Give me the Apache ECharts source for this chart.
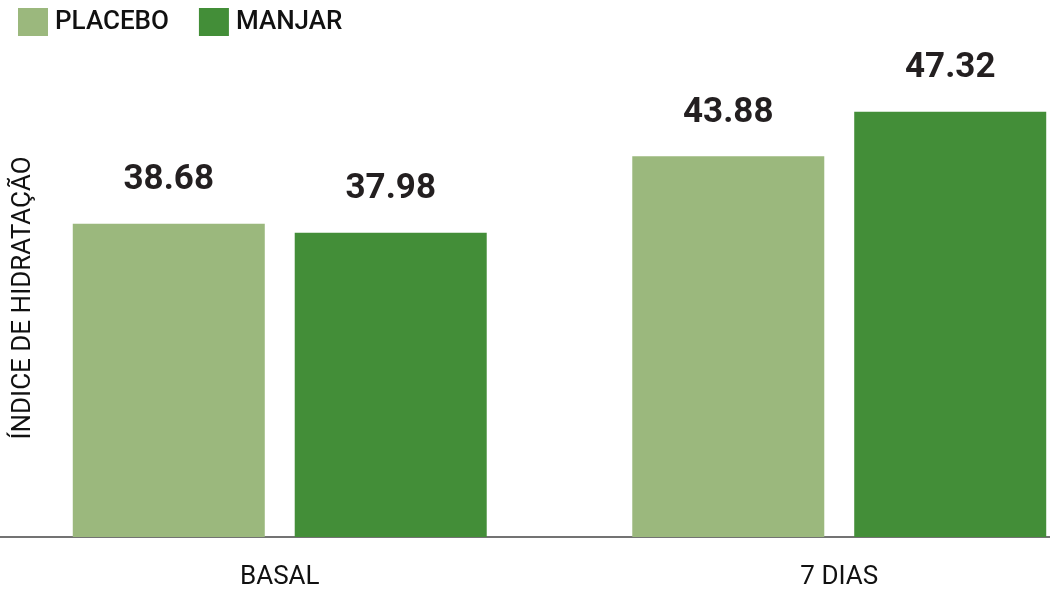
<!DOCTYPE html>
<html>
<head>
<meta charset="utf-8">
<script src="https://cdn.jsdelivr.net/npm/echarts@6/dist/echarts.min.js"></script>
<style>
html,body{margin:0;padding:0;background:#fff;}
#chart{width:1050px;height:589px;}
</style>
</head>
<body>
<div id="chart"></div>
<script>
const categories = ['BASAL', '7 DIAS'];
const placebo = [38.68, 43.88];
const manjar = [37.98, 47.32];
const seriesNames = ['PLACEBO', 'MANJAR'];
const axisTitle = 'ÍNDICE DE HIDRATAÇÃO';

const chart = echarts.init(document.getElementById('chart'));
const labelStyle = {
  show: true,
  position: 'top',
  distance: 26,
  fontFamily: 'Roboto',
  fontWeight: 'bold',
  fontSize: 35,
  color: '#231f20',
  formatter: p => p.value.toFixed(2)
};
chart.setOption({
  animation: false,
  backgroundColor: '#ffffff',
  legend: {
    left: 18,
    top: 8,
    padding: 0,
    itemWidth: 30,
    itemHeight: 28,
    itemGap: 30,
    icon: 'rect',
    textStyle: {fontFamily: 'Roboto', fontSize: 26, fontWeight: 500, color: '#111', padding: [0, 0, 0, 2]},
    data: seriesNames
  },
  grid: {left: 0, right: -69, top: 77, bottom: 52, containLabel: false, outerBoundsMode: 'none'},
  xAxis: {
    type: 'category',
    data: categories,
    axisLine: {show: true, lineStyle: {color: '#444', width: 1.5}},
    axisTick: {show: false},
    axisLabel: {fontFamily: 'Roboto', fontSize: 26, color: '#111', margin: 27}
  },
  yAxis: {
    type: 'value',
    min: 14.5,
    max: 50,
    axisLine: {show: false},
    axisTick: {show: false},
    axisLabel: {show: false},
    splitLine: {show: false},
    name: axisTitle,
    nameLocation: 'middle',
    nameRotate: 90,
    nameGap: -36,
    nameTextStyle: {fontFamily: 'Roboto', fontSize: 26, color: '#111', padding: [0, 0, 0, 18]}
  },
  series: [
    {name: seriesNames[0], type: 'bar', data: placebo, barWidth: 192, barGap: '15.6%',
     itemStyle: {color: '#9bb87d'}, label: labelStyle},
    {name: seriesNames[1], type: 'bar', data: manjar, barWidth: 192, barGap: '15.6%',
     itemStyle: {color: '#438e38'}, label: labelStyle}
  ]
});
</script>
</body>
</html>
